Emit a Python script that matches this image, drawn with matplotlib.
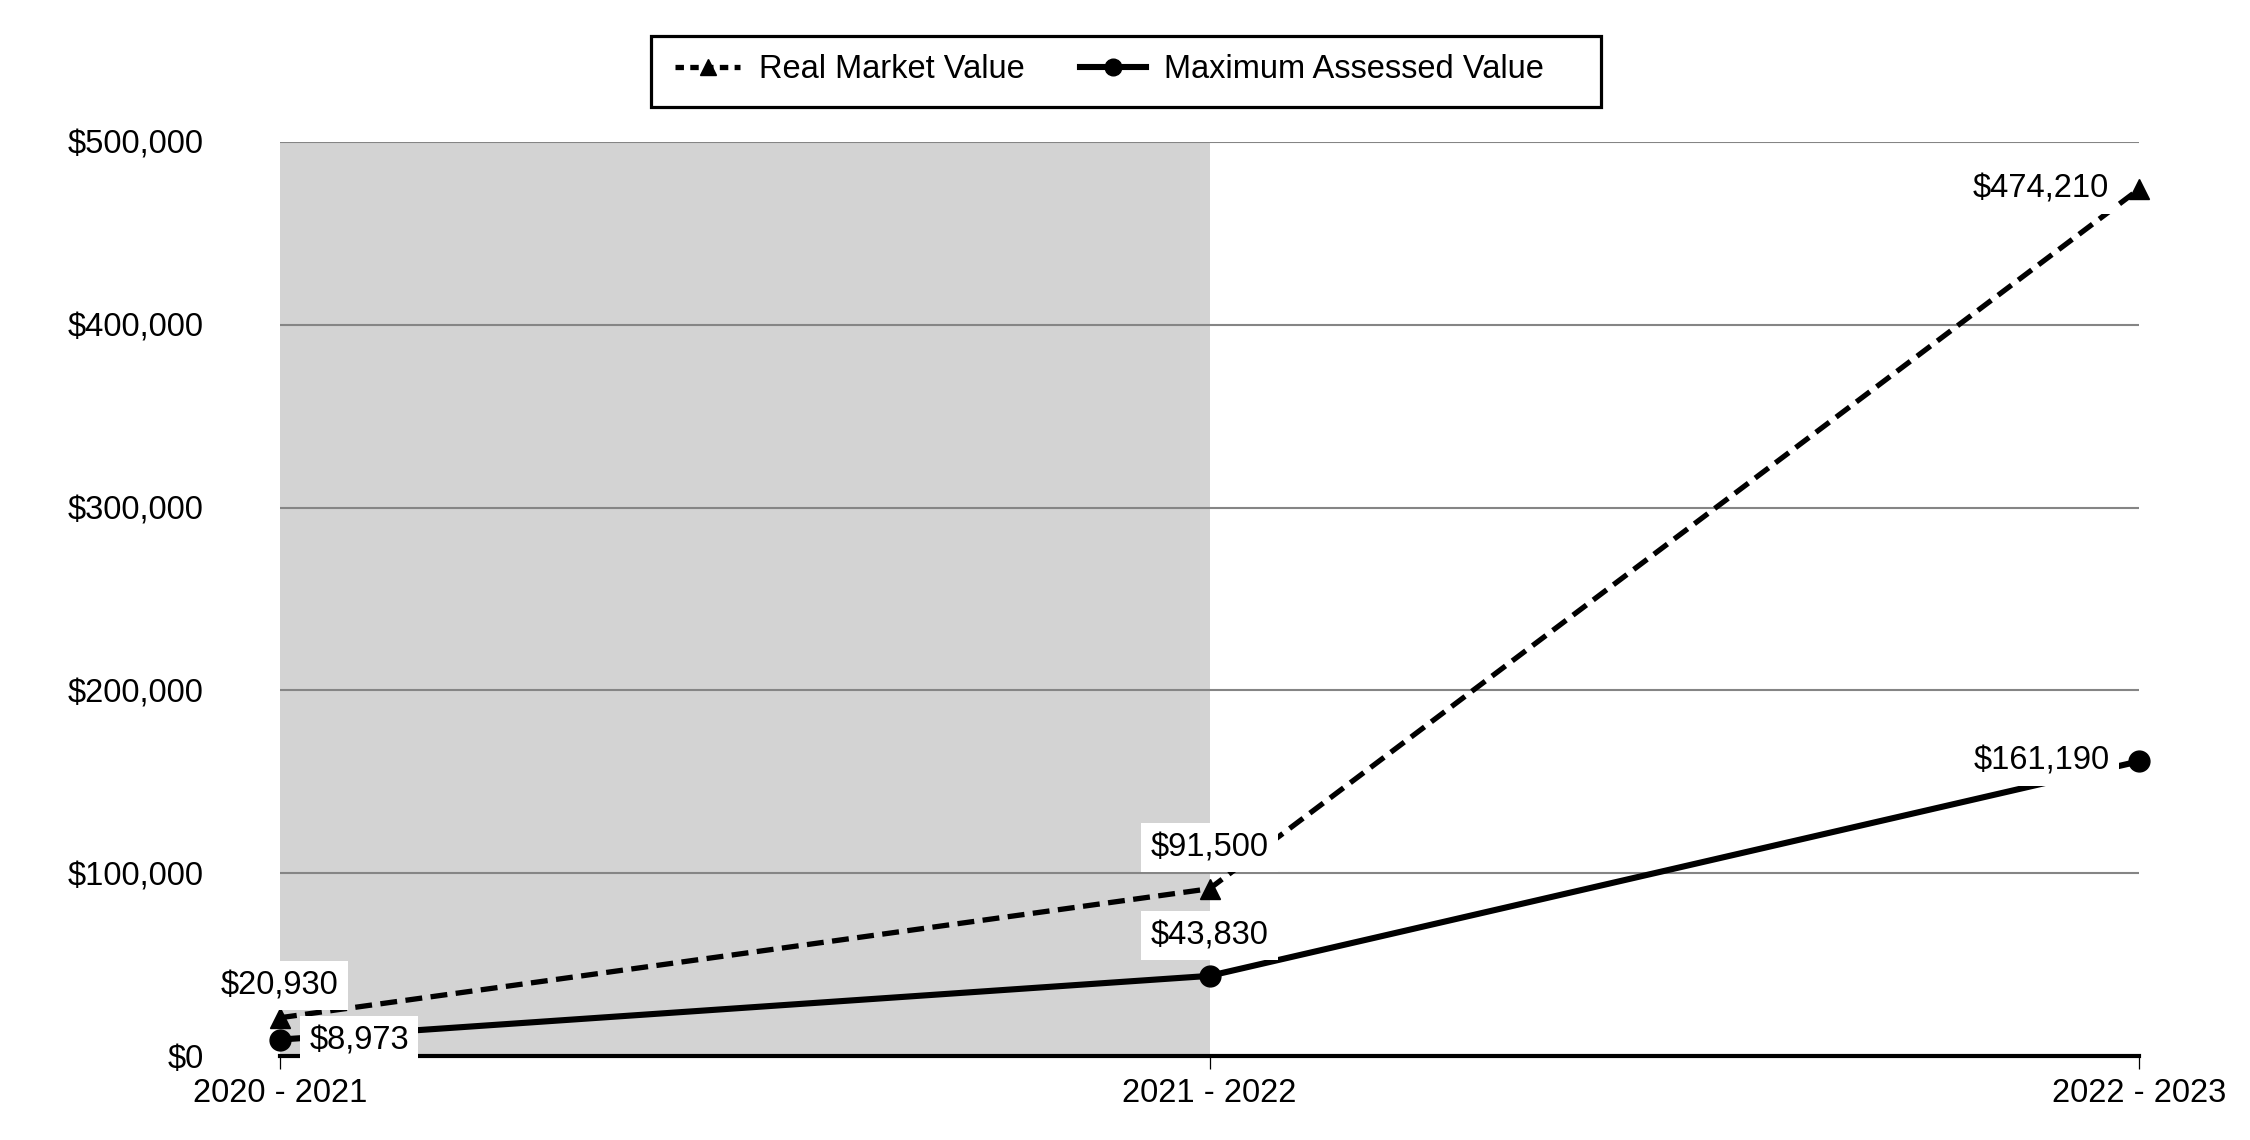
import matplotlib
matplotlib.use("Agg")
import matplotlib.pyplot as plt
from matplotlib.patches import Rectangle
from matplotlib.lines import Line2D
from matplotlib.ticker import FuncFormatter

plt.rcParams['font.family'] = ['Liberation Sans', 'DejaVu Sans']

years = ['2020 - 2021', '2021 - 2022', '2022 - 2023']
real_market_value = [20930, 91500, 474210]
max_assessed_value = [8973, 43830, 161190]
y_ticks = [0, 100000, 200000, 300000, 400000, 500000]

# label offsets (points): (dx, dy, ha)
rmv_label_pos = [(0, 23, 'center'), (0, 29.5, 'center'), (-21.5, 0, 'right')]
mav_label_pos = [(21, -1, 'left'), (0, 29, 'center'), (-21, 0, 'right')]

FS = 23.5
fig = plt.figure(figsize=(22.5, 11.4), dpi=100)
ax = fig.add_axes([280/2250, 1-1056/1140, (2139-280)/2250, (1056-142)/1140])

x = list(range(len(years)))
ax.axvspan(x[0], x[1], color='#d3d3d3', zorder=0, lw=0)
for t in y_ticks[1:]:
    ax.axhline(t, color='#858585', lw=1.5, zorder=1)
ax.axhline(0, color='black', lw=3, zorder=2, clip_on=False)

l1, = ax.plot(x, real_market_value, color='black', lw=3.8, linestyle=(0, (3.2, 1.6)),
              marker='^', markersize=15, zorder=3, clip_on=False)
l2, = ax.plot(x, max_assessed_value, color='black', lw=4.4, linestyle='-',
              marker='o', markersize=15, zorder=3, clip_on=False)

bbox = dict(boxstyle='square,pad=0.28', fc='white', ec='none')
for xi, v, (dx, dy, ha) in zip(x, real_market_value, rmv_label_pos):
    ax.annotate(f"${v:,.0f}", (xi, v), xytext=(dx, dy), textcoords='offset points',
                ha=ha, va='center', fontsize=FS, bbox=bbox, zorder=4, annotation_clip=False)
for xi, v, (dx, dy, ha) in zip(x, max_assessed_value, mav_label_pos):
    ax.annotate(f"${v:,.0f}", (xi, v), xytext=(dx, dy), textcoords='offset points',
                ha=ha, va='center', fontsize=FS, bbox=bbox, zorder=4, annotation_clip=False)

ax.set_xlim(x[0], x[-1])
ax.set_ylim(0, 500000)
ax.set_yticks(y_ticks)
ax.yaxis.set_major_formatter(FuncFormatter(lambda v, p: f"${v:,.0f}"))
ax.set_xticks(x)
ax.set_xticklabels(years)
ax.tick_params(axis='y', length=0, pad=55, labelsize=FS)
ax.tick_params(axis='x', length=9, width=0.9, pad=7, labelsize=FS, color='black')
for s in ax.spines.values():
    s.set_visible(False)

h1 = Line2D([], [], color='black', lw=3.8, linestyle=(0, (1.6, 1.2)), marker='^', markersize=11)
h2 = Line2D([], [], color='black', lw=4.4, linestyle='-', marker='o', markersize=12)
fig.legend([h1, h2], ['Real Market Value', 'Maximum Assessed Value'],
           loc='center left', bbox_to_anchor=(675/2250, 1-70/1140),
           frameon=False, ncol=2, fontsize=FS, handlelength=2.0, handletextpad=0.56,
           columnspacing=1.72, borderpad=0, borderaxespad=0)
fig.patches.append(Rectangle((651/2250, 1-107/1140), 950/2250, 71/1140,
                             transform=fig.transFigure, fill=False, lw=2.3, ec='black'))

fig.savefig('out.png', dpi=100, facecolor='white')
